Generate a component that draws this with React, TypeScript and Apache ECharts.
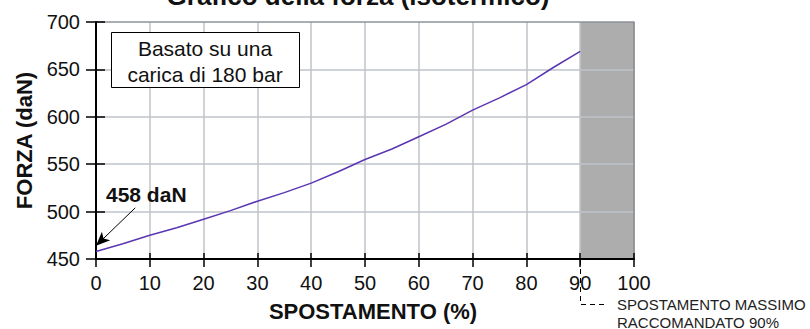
import React, { useEffect, useRef } from "react";
import * as echarts from "echarts";

const displacement = [0, 5, 10, 15, 20, 25, 30, 35, 40, 45, 50, 55, 60, 65, 70, 75, 80, 85, 90];
const force = [458, 466, 475, 483, 492, 501, 511, 520, 530, 542, 555, 566, 579, 592, 607, 620, 634, 652, 669];
const xTicks = { min: 0, max: 100, interval: 10 };
const yTicks = { min: 450, max: 700, interval: 50 };
const maxRecommended = 90;
const titleText = "Grafico della forza (isotermico)";
const noteLines = ["Basato su una", "carica di 180 bar"];
const footLines = ["SPOSTAMENTO MASSIMO", "RACCOMANDATO 90%"];

const FONT = "'Liberation Sans', Arial, Helvetica, sans-serif";

export default function App() {
  const ref = useRef<HTMLDivElement>(null);
  useEffect(() => {
    if (!ref.current) return;
    const chart = echarts.init(ref.current, null, { renderer: "svg" });
    const grid = "#bfc3c9";
    const border = "#8e9399";
    const nX = (xTicks.max - xTicks.min) / xTicks.interval;
    const nY = (yTicks.max - yTicks.min) / yTicks.interval;
    const xColors = Array.from({ length: nX + 1 }, (_, i) => (i === nX ? border : grid));
    const yColors = Array.from({ length: nY + 1 }, (_, i) => (i === nY ? border : grid));
    const areaColors = Array.from({ length: nX }, (_, i) =>
      xTicks.min + i * xTicks.interval >= maxRecommended ? "#adadad" : "rgba(255,255,255,0)"
    );
    chart.setOption({
      animation: false,
      textStyle: { fontFamily: FONT },
      grid: { left: 96, right: 176, top: 22, bottom: 70, containLabel: false },
      xAxis: [
        {
          type: "value",
          position: "bottom",
          z: 0,
          ...xTicks,
          name: "SPOSTAMENTO (%)",
          nameLocation: "middle",
          nameGap: 41,
          nameTextStyle: { fontSize: 22, fontWeight: "bold", color: "#111", padding: [0, 0, 0, 16] },
          axisLine: { show: true, lineStyle: { color: "#000", width: 2 } },
          axisTick: { show: true, inside: false, length: 8, lineStyle: { color: "#000", width: 1.5 } },
          axisLabel: { fontSize: 20, color: "#111", margin: 14 },
          splitLine: { show: true, lineStyle: { color: xColors, width: 1.5 } },
          splitArea: { show: true, areaStyle: { color: areaColors } },
        },
        {
          type: "value",
          position: "bottom",
          z: 2,
          ...xTicks,
          axisLine: { show: true, lineStyle: { color: "#000", width: 2 } },
          axisTick: { show: true, inside: true, length: 6, lineStyle: { color: "#000", width: 1.5 } },
          axisLabel: { show: false },
          splitLine: { show: false },
        },
      ],
      yAxis: [
        {
          type: "value",
          position: "left",
          z: 1,
          ...yTicks,
          name: "FORZA (daN)",
          nameLocation: "middle",
          nameRotate: 90,
          nameGap: 58,
          nameTextStyle: { fontSize: 22, fontWeight: "bold", color: "#111" },
          axisLine: { show: true, lineStyle: { color: "#000", width: 2 } },
          axisTick: { show: true, inside: false, length: 10, lineStyle: { color: "#000", width: 1.5 } },
          axisLabel: { fontSize: 20, color: "#111", margin: 16 },
          splitLine: { show: true, lineStyle: { color: yColors, width: 1.5 } },
        },
        {
          type: "value",
          position: "left",
          z: 2,
          ...yTicks,
          axisLine: { show: false },
          axisTick: { show: true, inside: true, length: 9, lineStyle: { color: "#000", width: 1.5 } },
          axisLabel: { show: false },
          splitLine: { show: false },
        },
        {
          type: "value",
          position: "right",
          z: 1,
          ...yTicks,
          axisLine: { show: true, lineStyle: { color: border, width: 1.5 } },
          axisTick: { show: false },
          axisLabel: { show: false },
          splitLine: { show: false },
        },
      ],
      series: [
        {
          type: "line",
          data: displacement.map((d, i) => [d, force[i]]),
          showSymbol: false,
          symbol: "none",
          lineStyle: { color: "#5a36b3", width: 1.5 },
          z: 3,
          markLine: {
            silent: true,
            z: 4,
            symbol: ["none", "arrow"],
            symbolSize: [9, 14],
            lineStyle: { color: "#000", width: 1, type: "solid" },
            label: { show: false },
            data: [[{ coord: [7.3, 504] }, { coord: [0, 464] }]],
          },
        },
      ],
      graphic: [
        {
          type: "text",
          x: 358,
          y: -4,
          z: 100,
          style: {
            text: titleText,
            fontSize: 26,
            fontWeight: "bold",
            fontFamily: FONT,
            fill: "#111",
            align: "center",
            verticalAlign: "middle",
          },
        },
        {
          type: "rect",
          z: 100,
          shape: { x: 111.5, y: 32.5, width: 188, height: 55 },
          style: { fill: "#fff", stroke: "#000", lineWidth: 1 },
        },
        {
          type: "text",
          x: 205,
          y: 61,
          z: 101,
          style: {
            text: noteLines.join("\n"),
            fontSize: 21,
            lineHeight: 26,
            fontFamily: FONT,
            fill: "#111",
            align: "center",
            verticalAlign: "middle",
          },
        },
        {
          type: "text",
          x: 106,
          y: 194,
          z: 101,
          style: {
            text: `${force[0]} daN`,
            fontSize: 21,
            fontWeight: "bold",
            fontFamily: FONT,
            fill: "#111",
            align: "left",
            verticalAlign: "middle",
          },
        },
        {
          type: "polyline",
          z: 100,
          shape: { points: [[580.5, 260], [580.5, 304.5], [608, 304.5]] },
          style: { stroke: "#000", lineWidth: 1, lineDash: [5, 4], fill: null },
        },
        {
          type: "text",
          x: 617,
          y: 313,
          z: 101,
          style: {
            text: footLines.join("\n"),
            fontSize: 15,
            lineHeight: 18,
            fontFamily: FONT,
            fill: "#222",
            align: "left",
            verticalAlign: "middle",
          },
        },
      ],
    });
    return () => chart.dispose();
  }, []);
  return (
    <div
      ref={ref}
      style={{ position: "fixed", left: 0, top: 0, width: 810, height: 329, background: "#fff" }}
    />
  );
}
